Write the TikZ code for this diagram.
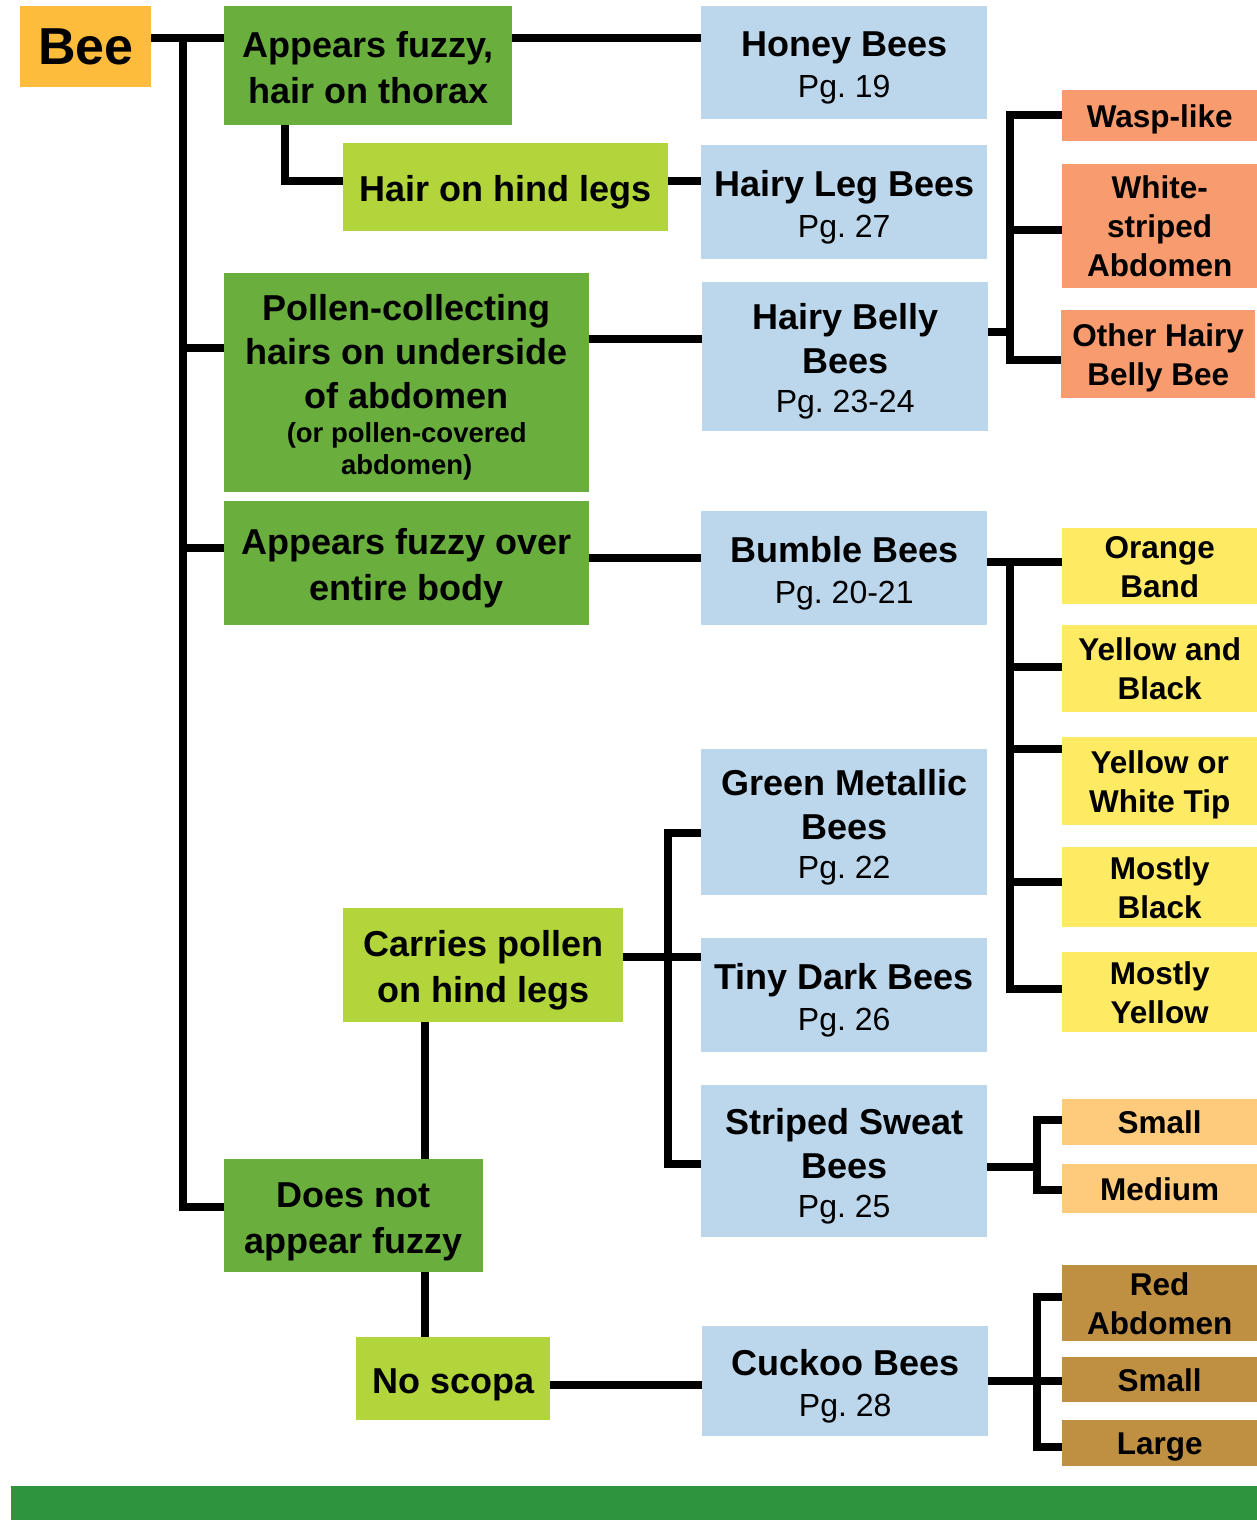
\documentclass[tikz,border=0pt]{standalone}
\usepackage{fontspec}
\setmainfont{Liberation Sans}
\usetikzlibrary{positioning, calc}
\definecolor{beeorange}{RGB}{253,188,60}
\definecolor{leafdark}{RGB}{106,174,61}
\definecolor{leaflight}{RGB}{177,213,58}
\definecolor{skyblue}{RGB}{188,215,236}
\definecolor{salmon}{RGB}{248,155,110}
\definecolor{lemon}{RGB}{255,234,100}
\definecolor{peach}{RGB}{254,202,124}
\definecolor{tanbrown}{RGB}{191,144,66}
\definecolor{bargreen}{RGB}{46,148,62}
\frenchspacing
\newcommand{\mainstrut}{\rule[-8pt]{0pt}{45pt}}
\newcommand{\tagstrut}{\rule[-7pt]{0pt}{37pt}}
\tikzset{
  box/.style={rectangle, inner sep=0pt, align=flush center, anchor=north west},
  sz/.style 2 args={minimum width=#1pt, text width=#1pt, minimum height=#2pt},
  txt/.style={box, font=\bfseries\fontsize{36}{44}\selectfont,
              execute at begin node=\mainstrut, execute at end node=\mainstrut},
  key/.style={txt, fill=leafdark},
  subkey/.style={txt, fill=leaflight},
  group/.style={txt, fill=skyblue},
  tag/.style={box, font=\bfseries\fontsize{31.5}{39}\selectfont,
              execute at begin node=\tagstrut, execute at end node=\tagstrut},
  link/.style={line width=8pt},
}
\newcommand{\pg}[1]{\\[-5pt]{\mdseries\fontsize{32}{44}\selectfont Pg. #1}}
\newcommand{\aside}[1]{{\fontsize{27.5}{32}\selectfont #1}}

\begin{document}
\begin{tikzpicture}[x=1pt, y=-1pt]
  \useasboundingbox (0,0) rectangle (1257,1520);
  % left column
  \node[box, fill=beeorange, sz={131}{81}, font=\bfseries\fontsize{52}{60}\selectfont] (bee) at (20,6) {Bee};
  \node[key, sz={288}{119}] (thorax) at (224,6) {Appears fuzzy,\\hair on thorax};
  \node[subkey, sz={325}{88}] (hindhair) at (343,143) {Hair on hind legs};
  \node[key, sz={365}{219}] (pollen) at (224,273)
    {Pollen-collecting\\hairs on underside\\of abdomen\\[-10pt]\aside{(or pollen-covered}\\[-12pt]\aside{abdomen)}};
  \node[key, sz={365}{124}] (fuzzybody) at (224,501) {Appears fuzzy over\\entire body};
  \node[subkey, sz={280}{114}] (carries) at (343,908) {Carries pollen\\on hind legs};
  \node[key, sz={259}{113}] (notfuzzy) at (224,1159) {Does not\\appear fuzzy};
  \node[subkey, sz={194}{83}] (noscopa) at (356,1337) {No scopa};

  % bee groups
  \node[group, sz={286}{113}] (honey) at (701,6) {Honey Bees\pg{19}};
  \node[group, sz={286}{114}] (hairyleg) at (701,145) {Hairy Leg Bees\pg{27}};
  \node[group, sz={286}{149}] (hairybelly) at (702,282) {Hairy Belly\\Bees\pg{23-24}};
  \node[group, sz={286}{114}] (bumble) at (701,511) {Bumble Bees\pg{20-21}};
  \node[group, sz={286}{146}] (greenmetal) at (701,749) {Green Metallic\\Bees\pg{22}};
  \node[group, sz={286}{114}] (tinydark) at (701,938) {Tiny Dark Bees\pg{26}};
  \node[group, sz={286}{152}] (striped) at (701,1085) {Striped Sweat\\Bees\pg{25}};
  \node[group, sz={286}{110}] (cuckoo) at (702,1326) {Cuckoo Bees\pg{28}};

  % right column
  \node[tag, fill=salmon, sz={195}{51}] (wasp) at (1062,90) {Wasp-like};
  \node[tag, fill=salmon, sz={195}{124}] (whitestripe) at (1062,164) {White-\\striped\\Abdomen};
  \node[tag, fill=salmon, sz={194}{88}] (otherhairy) at (1061,310) {Other Hairy\\Belly Bee};
  \node[tag, fill=lemon, sz={195}{75}] (orange) at (1062,528) {Orange\\Band};
  \node[tag, fill=lemon, sz={195}{87}] (yellowblack) at (1062,625) {Yellow and\\Black};
  \node[tag, fill=lemon, sz={195}{88}] (yellowtip) at (1062,737) {Yellow or\\White Tip};
  \node[tag, fill=lemon, sz={195}{80}] (mostlyblack) at (1062,847) {Mostly\\Black};
  \node[tag, fill=lemon, sz={195}{80}] (mostlyyellow) at (1062,952) {Mostly\\Yellow};
  \node[tag, fill=peach, sz={195}{46}] (sweatsmall) at (1062,1099) {Small};
  \node[tag, fill=peach, sz={195}{49}] (medium) at (1062,1164) {Medium};
  \node[tag, fill=tanbrown, sz={195}{75}] (redabd) at (1062,1265) {Red\\Abdomen};
  \node[tag, fill=tanbrown, sz={195}{45}] (cuckoosmall) at (1062,1357) {Small};
  \node[tag, fill=tanbrown, sz={195}{46}] (large) at (1062,1420) {Large};

  % junctions
  \coordinate (t0) at (183,38);
  \coordinate (t1) at (183,348);
  \coordinate (t2) at (183,548);
  \coordinate (t3) at (183,1207);
  \coordinate (h0) at (285,181);
  \coordinate (p0) at (640,339);
  \coordinate (f0) at (640,558);
  \coordinate (b0) at (1010,332);
  \coordinate (bw) at (1010,115);
  \coordinate (bs) at (1010,230);
  \coordinate (bo) at (1010,360);
  \coordinate (u0) at (1010,562);
  \coordinate (u1) at (1010,667);
  \coordinate (u2) at (1010,749);
  \coordinate (u3) at (1010,882);
  \coordinate (u4) at (1010,989);
  \coordinate (c0) at (668,833);
  \coordinate (c1) at (668,957);
  \coordinate (c2) at (668,1164);
  \coordinate (drop) at (425,1100);
  \coordinate (n0) at (626,1385);
  \coordinate (s0) at (1037,1167);
  \coordinate (s1) at (1037,1120);
  \coordinate (s2) at (1037,1190);
  \coordinate (k0) at (1037,1381);
  \coordinate (k1) at (1037,1297);
  \coordinate (k2) at (1037,1447);

  % connectors
  \draw[link] (bee.east |- t0) -- (thorax.west |- t0);
  \draw[link] (t0) |- (notfuzzy.west |- t3);
  \draw[link] (t1) -- (pollen.west |- t1);
  \draw[link] (t2) -- (fuzzybody.west |- t2);
  \draw[link] (thorax.east |- t0) -- (honey.west |- t0);
  \draw[link] (thorax.south -| h0) |- (hindhair.west |- h0);
  \draw[link] (hindhair.east |- h0) -- (hairyleg.west |- h0);
  \draw[link] (pollen.east |- p0) -- (hairybelly.west |- p0);
  \draw[link] (fuzzybody.east |- f0) -- (bumble.west |- f0);
  \draw[link] (hairybelly.east |- b0) -- (b0);
  \draw[link] (wasp.west |- bw) -- (bw) -- (bo) -- (otherhairy.west |- bo);
  \draw[link] (bs) -- (whitestripe.west |- bs);
  \draw[link] (bumble.east |- u0) -- (orange.west |- u0);
  \draw[link] (u0) |- (mostlyyellow.west |- u4);
  \draw[link] (u1) -- (yellowblack.west |- u1);
  \draw[link] (u2) -- (yellowtip.west |- u2);
  \draw[link] (u3) -- (mostlyblack.west |- u3);
  \draw[link] (greenmetal.west |- c0) -- (c0) -- (c2) -- (striped.west |- c2);
  \draw[link] (carries.east |- c1) -- (tinydark.west |- c1);
  \draw[link] (carries.south -| drop) -- (notfuzzy.north -| drop);
  \draw[link] (notfuzzy.south -| drop) -- (noscopa.north -| drop);
  \draw[link] (noscopa.east |- n0) -- (cuckoo.west |- n0);
  \draw[link] (striped.east |- s0) -- (s0);
  \draw[link] (sweatsmall.west |- s1) -- (s1) -- (s2) -- (medium.west |- s2);
  \draw[link] (cuckoo.east |- k0) -- (cuckoosmall.west |- k0);
  \draw[link] (redabd.west |- k1) -- (k1) -- (k2) -- (large.west |- k2);

  % footer band
  \fill[bargreen] (11,1486) rectangle (1257,1520);
\end{tikzpicture}
\end{document}
